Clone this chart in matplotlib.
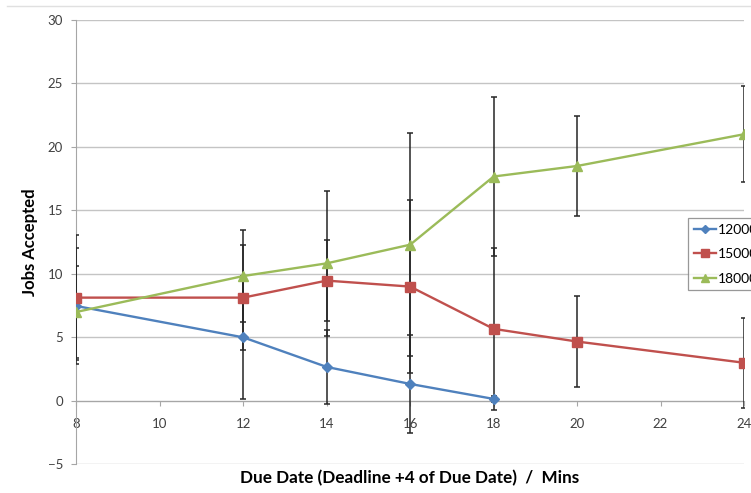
import matplotlib
matplotlib.use("Agg")
import matplotlib.pyplot as plt
from matplotlib.lines import Line2D

plt.rcParams['font.family'] = ['Lato', 'DejaVu Sans']

# ---- data ----
x_blue = [8, 12, 14, 16, 18]
jobs_12000 = [7.47, 5.0, 2.67, 1.33, 0.15]
err_12000 = [4.6, 4.83, 2.93, 3.88, 0.25]

x_rg = [8, 12, 14, 16, 18, 20, 24]
jobs_15000 = [8.13, 8.13, 9.47, 9.0, 5.67, 4.67, 3.0]
err_15000 = [4.9, 4.15, 3.2, 6.8, 6.38, 3.6, 3.55]
jobs_18000 = [7.0, 9.83, 10.83, 12.3, 17.67, 18.5, 21.0]
err_18000 = [3.6, 3.65, 5.72, 8.8, 6.3, 3.95, 3.78]

labels = ["12000", "15000", "18000"]
x_ticks = [8, 10, 12, 14, 16, 18, 20, 22, 24]
y_ticks = [-5, 0, 5, 10, 15, 20, 25, 30]

W, H = 751, 493
fig = plt.figure(figsize=(W / 100, H / 100), dpi=100)
ax = fig.add_axes([76.3 / W, 1 - 464.3 / H, (744 - 76.3) / W, (464.3 - 20) / H])

colors = ['#4F81BD', '#C0504D', '#9BBB59']
markers = ['D', 's', '^']
msizes = [5.0, 7.2, 7.8]
series = [(x_blue, jobs_12000, err_12000), (x_rg, jobs_15000, err_15000), (x_rg, jobs_18000, err_18000)]

for (xs, ys, es) in series:
    ax.errorbar(xs, ys, yerr=es, fmt='none', ecolor='#262626', elinewidth=1.1,
                capsize=2.3, capthick=1.1, zorder=3)

handles = []
for (xs, ys, es), c, m, ms, lab in zip(series, colors, markers, msizes, labels):
    h, = ax.plot(xs, ys, color=c, lw=1.7, marker=m, markersize=ms,
                 markerfacecolor=c, markeredgecolor=c, label=lab, zorder=4)
    handles.append(h)

ax.set_xlim(8, 24)
ax.set_ylim(-5, 30)
ax.set_xticks(x_ticks)
ax.set_yticks(y_ticks)
ax.grid(axis='y', color='#c4c4c4', lw=1.0, zorder=0)
ax.set_axisbelow(True)

for s in ['top', 'right']:
    ax.spines[s].set_visible(False)
ax.spines['bottom'].set_position(('data', 0))
ax.spines['bottom'].set_color('#a6a6a6')
ax.spines['left'].set_color('#a6a6a6')
ax.tick_params(axis='x', direction='out', length=3.5, width=0.8, color='#a6a6a6',
               pad=9, labelsize=9.5, labelcolor='#404040')
ax.tick_params(axis='y', direction='out', length=3.5, width=0.8, color='#a6a6a6',
               pad=6, labelsize=9.5, labelcolor='#404040')

fig.text(30 / W, 1 - 242 / H, "Jobs Accepted", rotation=90, ha='center', va='center',
         fontsize=12, fontweight='bold')
fig.text(410 / W, 1 - 478 / H, "Due Date (Deadline +4 of Due Date)  /  Mins",
         ha='center', va='center', fontsize=12.3, fontweight='bold')

leg = fig.legend(handles=handles, loc='upper left', bbox_to_anchor=(688 / W, 1 - 218 / H),
                 fontsize=10, frameon=True, fancybox=False, numpoints=1,
                 handlelength=1.6, handletextpad=0.15, labelspacing=0.9,
                 borderpad=0.4, borderaxespad=0, markerscale=0.8)
leg.get_frame().set_edgecolor('#7f7f7f')
leg.get_frame().set_linewidth(0.9)

fig.add_artist(Line2D([7 / W, 1], [1 - 6 / H, 1 - 6 / H], color='#e0e0e0', lw=1.0,
                      transform=fig.transFigure))

fig.savefig("out.png", dpi=100)
